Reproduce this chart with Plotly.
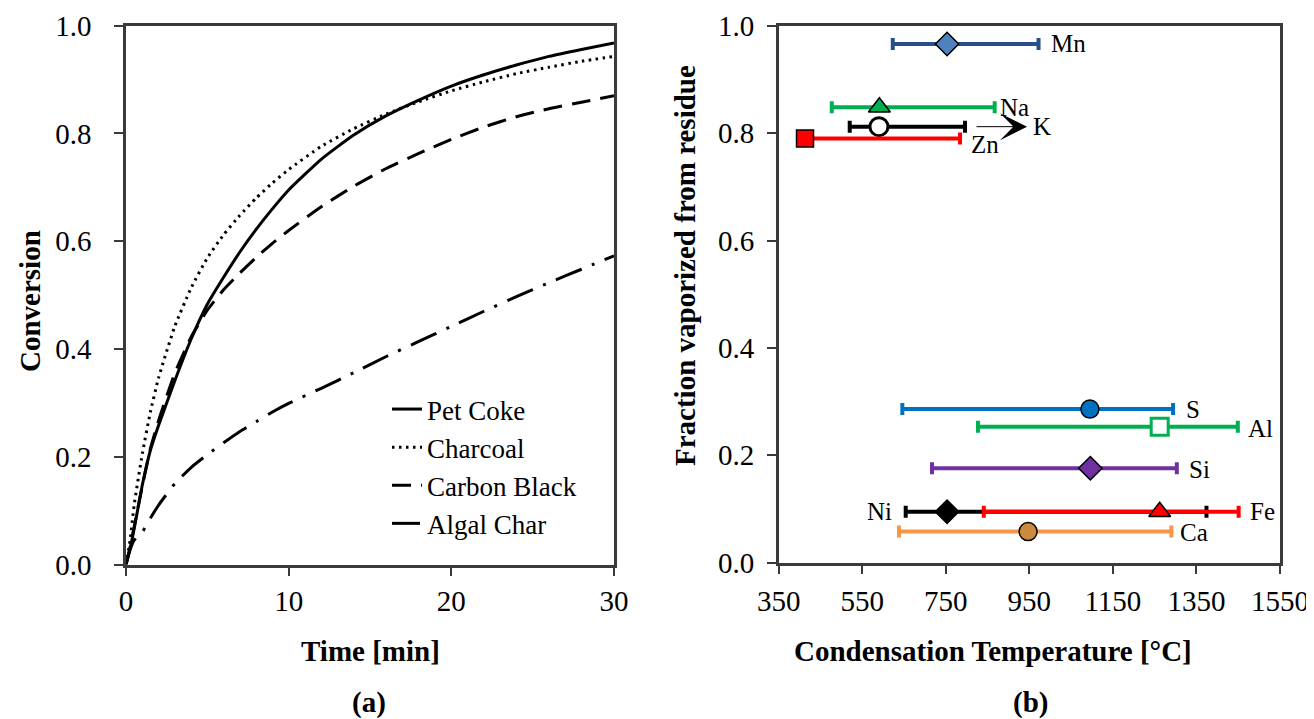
import plotly.graph_objects as go

# ---------------- Panel (a) data ----------------
time_min = [0, 0.25, 0.5, 1, 1.5, 2, 3, 4, 5, 6, 7, 8, 9, 10, 12, 14, 16, 18, 20, 22, 24, 26, 28, 30]
pet_coke = [0, 0.030, 0.066, 0.147, 0.212, 0.258, 0.341, 0.418, 0.483, 0.533, 0.580, 0.622, 0.660, 0.695,
            0.752, 0.797, 0.833, 0.862, 0.888, 0.909, 0.927, 0.943, 0.956, 0.968]
charcoal = [0, 0.045, 0.110, 0.205, 0.283, 0.346, 0.442, 0.513, 0.569, 0.612, 0.648, 0.680, 0.708, 0.733,
            0.776, 0.809, 0.836, 0.859, 0.879, 0.896, 0.911, 0.923, 0.934, 0.943]
carbon_black = [0, 0.032, 0.070, 0.145, 0.215, 0.267, 0.355, 0.422, 0.472, 0.510, 0.541, 0.570, 0.596, 0.620,
                0.664, 0.702, 0.735, 0.763, 0.789, 0.812, 0.831, 0.846, 0.858, 0.870]
algal_char = [0, 0.027, 0.045, 0.060, 0.086, 0.110, 0.150, 0.180, 0.204, 0.226, 0.247, 0.265, 0.283, 0.299,
              0.327, 0.356, 0.386, 0.414, 0.442, 0.470, 0.497, 0.523, 0.548, 0.573]
series_names = ["Pet Coke", "Charcoal", "Carbon Black", "Algal Char"]

# ---------------- Panel (b) data ----------------
elements = ["Mn", "Na", "K", "Zn", "S", "Al", "Si", "Ni", "Fe", "Ca"]
cond_temp = [753, 591, 590, 413, 1095, 1262, 1096, 753, 1262, 947]
temp_low = [623, 477, 520, 413, 646, 827, 717, 654, 841, 638]
temp_high = [972, 867, 796, 784, 1294, 1449, 1303, 1374, 1451, 1290]
fraction = [0.966, 0.848, 0.812, 0.790, 0.286, 0.253, 0.176, 0.095, 0.095, 0.058]

left_ticks_y = [0.0, 0.2, 0.4, 0.6, 0.8, 1.0]
left_ticks_x = [0, 10, 20, 30]
right_ticks_x = [350, 550, 750, 950, 1150, 1350, 1550]

# ---------------- layout helpers (page body has an 8px margin) ----------------
W, H, OFF = 1314, 719, 8


def px_x(p):
    return (p - OFF) / W


def px_y(p):
    return 1 - (p - OFF) / H


# ---------------- styles ----------------
FONT = "Liberation Serif, Times New Roman, serif"
AXC = "#3a3a3a"
line_styles = {
    "Pet Coke": dict(color="black", width=3, dash="solid"),
    "Charcoal": dict(color="black", width=3, dash="2.5px,4.5px"),
    "Carbon Black": dict(color="black", width=3, dash="19px,10px"),
    "Algal Char": dict(color="black", width=3, dash="28px,11px,3px,11px"),
}
elem_style = {
    "Mn": dict(bar="#274F88", sym="diamond", fill="#4F81BD", edge="black", ew=1.5, size=18),
    "Na": dict(bar="#00B050", sym="triangle-up", fill="#00B050", edge="black", ew=1.5, size=19),
    "K":  dict(bar="black", sym="circle", fill="white", edge="black", ew=3, size=18),
    "Zn": dict(bar="#FF0000", sym="square", fill="#FF0000", edge="black", ew=1.5, size=17),
    "S":  dict(bar="#0070C0", sym="circle", fill="#0070C0", edge="black", ew=1.5, size=18),
    "Al": dict(bar="#00B050", sym="square", fill="white", edge="#00B050", ew=3, size=17),
    "Si": dict(bar="#7030A0", sym="diamond", fill="#7030A0", edge="black", ew=1.5, size=18),
    "Ni": dict(bar="black", sym="diamond", fill="black", edge="black", ew=1.5, size=18),
    "Fe": dict(bar="#FF0000", sym="triangle-up", fill="#FF0000", edge="black", ew=1.5, size=19),
    "Ca": dict(bar="#F79646", sym="circle", fill="#CC8A3E", edge="black", ew=1.5, size=18),
}
# label placement: (anchor side, xshift, yshift)
label_place = {
    "Mn": ("high", 10, 0), "Na": ("high", 3, 0), "Zn": ("high", 9, -6),
    "S": ("high", 11, 0), "Al": ("high", 8, -2), "Si": ("high", 10, -1),
    "Ni": ("low", -12, 0), "Fe": ("high", 9, 0), "Ca": ("high", 7, -1),
}

fig = go.Figure()

series = [pet_coke, charcoal, carbon_black, algal_char]
for name, vals in zip(series_names, series):
    fig.add_trace(go.Scatter(
        x=time_min, y=vals, mode="lines", name=name,
        line=dict(**line_styles[name], shape="spline", smoothing=0.5),
        xaxis="x", yaxis="y", showlegend=True,
    ))

for i, el in enumerate(elements):
    st = elem_style[el]
    fig.add_trace(go.Scatter(
        x=[cond_temp[i]], y=[fraction[i]], mode="markers", name=el,
        marker=dict(symbol=st["sym"], size=st["size"],
                    color=st["fill"], line=dict(color=st["edge"], width=st["ew"])),
        error_x=dict(type="data", symmetric=False,
                     array=[temp_high[i] - cond_temp[i]],
                     arrayminus=[cond_temp[i] - temp_low[i]],
                     color=st["bar"], thickness=4, width=6),
        xaxis="x2", yaxis="y2", showlegend=False,
    ))

annotations = []
for i, el in enumerate(elements):
    if el == "K":
        continue
    side, dx, dy = label_place[el]
    xv = temp_high[i] if side == "high" else temp_low[i]
    annotations.append(dict(
        x=xv, y=fraction[i], xref="x2", yref="y2", text=el, showarrow=False,
        xanchor="left" if side == "high" else "right", yanchor="middle",
        xshift=dx, yshift=dy, font=dict(family=FONT, size=25, color="black"),
    ))
# K arrow and label
ki = elements.index("K")
annotations.append(dict(
    x=temp_high[ki], y=fraction[ki], xref="x2", yref="y2", text="",
    showarrow=True, arrowhead=3, arrowsize=4.5, arrowwidth=1, arrowcolor="black",
    ax=-52, ay=0, xshift=62,
))
annotations.append(dict(
    x=temp_high[ki], y=fraction[ki], xref="x2", yref="y2", text="K", showarrow=False,
    xanchor="left", yanchor="middle", xshift=66, yshift=0,
    font=dict(family=FONT, size=25, color="black"),
))

title_font = dict(family=FONT, size=29, color="black")
annotations += [
    dict(x=px_x(370), y=px_y(651), xref="paper", yref="paper", text="<b>Time [min]</b>",
         showarrow=False, xanchor="center", yanchor="middle", font=title_font),
    dict(x=px_x(369), y=px_y(702), xref="paper", yref="paper", text="<b>(a)</b>",
         showarrow=False, xanchor="center", yanchor="middle", font=title_font),
    dict(x=px_x(30), y=px_y(301), xref="paper", yref="paper", text="<b>Conversion</b>",
         showarrow=False, xanchor="center", yanchor="middle", textangle=-90, font=title_font),
    dict(x=px_x(993), y=px_y(651), xref="paper", yref="paper", text="<b>Condensation Temperature [°C]</b>",
         showarrow=False, xanchor="center", yanchor="middle", font=title_font),
    dict(x=px_x(1030), y=px_y(702), xref="paper", yref="paper", text="<b>(b)</b>",
         showarrow=False, xanchor="center", yanchor="middle", font=title_font),
    dict(x=px_x(685), y=px_y(266), xref="paper", yref="paper", text="<b>Fraction vaporized from residue</b>",
         showarrow=False, xanchor="center", yanchor="middle", textangle=-90, font=title_font),
]

axis_common = dict(
    showline=True, linecolor=AXC, linewidth=2.5, mirror=True,
    ticks="outside", ticklen=9, tickwidth=2, tickcolor=AXC,
    showgrid=False, zeroline=False, automargin=False,
    tickfont=dict(family=FONT, size=29, color="black"),
)

fig.update_layout(
    width=W, height=H,
    margin=dict(l=0, r=0, t=0, b=0, autoexpand=False),
    paper_bgcolor="white", plot_bgcolor="white",
    xaxis=dict(domain=[px_x(126), px_x(614)], range=[0, 30], tickvals=left_ticks_x,
               ticklabelstandoff=0, anchor="y", **axis_common),
    yaxis=dict(domain=[px_y(564.5), px_y(25.7)], range=[0, 1], tickvals=left_ticks_y, tickformat=".1f",
               ticklabelstandoff=17, anchor="x", **axis_common),
    xaxis2=dict(domain=[px_x(778.7), px_x(1280)], range=[350, 1550], tickvals=right_ticks_x,
                ticklabelstandoff=2, anchor="y2", **axis_common),
    yaxis2=dict(domain=[px_y(562.7), px_y(25.7)], range=[0, 1], tickvals=left_ticks_y, tickformat=".1f",
                ticklabelstandoff=7, anchor="x2", **axis_common),
    legend=dict(x=px_x(387), y=px_y(385), xanchor="left", yanchor="top",
                bgcolor="rgba(0,0,0,0)", borderwidth=0,
                font=dict(family=FONT, size=27, color="black"),
                tracegroupgap=0, itemwidth=30),
    annotations=annotations,
    showlegend=True,
)

fig.write_html("out.html")
